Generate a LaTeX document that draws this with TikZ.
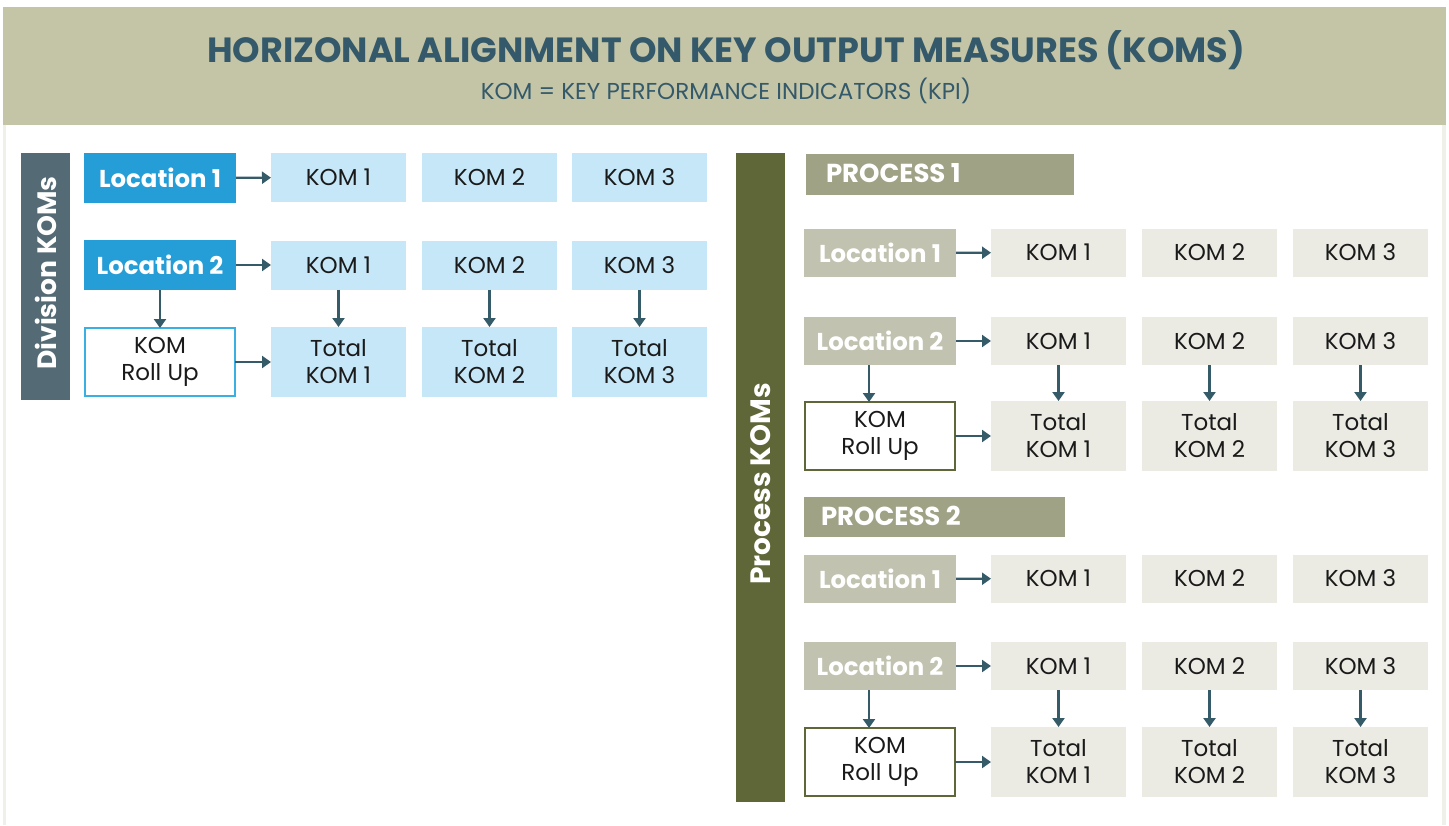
\documentclass[tikz,border=0pt]{standalone}
\usepackage{fontspec}
\setmainfont{Poppins}
\usetikzlibrary{arrows.meta}

\definecolor{bandcol}{HTML}{C4C5A6}
\definecolor{titlecol}{HTML}{34596A}
\definecolor{divcol}{HTML}{546A74}
\definecolor{locblue}{HTML}{259DD7}
\definecolor{komblue}{HTML}{C6E7F7}
\definecolor{rollblue}{HTML}{3AB0E2}
\definecolor{olivebar}{HTML}{5F6638}
\definecolor{headcol}{HTML}{A0A286}
\definecolor{locolive}{HTML}{C1C2AF}
\definecolor{komolive}{HTML}{EBEBE3}
\definecolor{arrowcol}{HTML}{355A68}
\definecolor{framecol}{HTML}{F0F0EA}
\definecolor{inkcol}{HTML}{1A1A1A}

\begin{document}
\begin{tikzpicture}[x=0.5pt,y=-0.5pt,
  box/.style={rectangle, inner sep=0pt, outer sep=0pt, align=center,
    font=\fontsize{11.5}{13.5}\selectfont, text=inkcol},
  lblue/.style={box, fill=locblue, text=white, minimum width=76pt, minimum height=25pt,
    font=\fontsize{12.2}{14}\selectfont\bfseries},
  kblue/.style={box, fill=komblue, minimum width=67.5pt, minimum height=24.5pt},
  tblue/.style={box, fill=komblue, minimum width=67.5pt, minimum height=35pt},
  rblue/.style={box, fill=white, draw=rollblue, line width=1.25pt, minimum width=75pt, minimum height=34pt},
  lolive/.style={box, fill=locolive, text=white, minimum width=76pt, minimum height=24pt,
    font=\fontsize{12.2}{14}\selectfont\bfseries},
  kolive/.style={box, fill=komolive, minimum width=67.5pt, minimum height=24pt},
  tolive/.style={box, fill=komolive, minimum width=67.5pt, minimum height=35pt},
  rolive/.style={box, fill=white, draw=olivebar, line width=1.25pt, minimum width=75pt, minimum height=34pt},
  headtext/.style={box, text=white, anchor=west, font=\fontsize{13}{15}\selectfont\bfseries},
  sidebar/.style={box, rotate=90, text=white},
  arr/.style={draw=arrowcol, line width=1.2pt, -{Triangle[length=4.5pt,width=6pt]}}
]
\useasboundingbox (0,0) rectangle (1449,825);
\fill[white] (0,0) rectangle (1449,825);

% page frame and title band
\fill[framecol] (3,125) rectangle (6,825);
\fill[framecol] (1442,125) rectangle (1446,825);
\fill[bandcol] (3,7) rectangle (1446,125);
\node[box, text=titlecol, font=\fontsize{17.5}{20}\selectfont\bfseries] (title) at (726,50)
  {HORIZONAL ALIGNMENT ON KEY OUTPUT MEASURES (KOMS)};
\node[box, text=titlecol, font=\fontsize{11.5}{13}\selectfont] (subtitle) at (726,91)
  {KOM = KEY PERFORMANCE INDICATORS (KPI)};

% ---------------- Division KOMs ----------------
\fill[divcol] (21,153) rectangle (70,400);
\node[sidebar, font=\fontsize{13.3}{15}\selectfont\bfseries] (divlabel) at (45.5,273) {Division KOMs};

\node[lblue] (dl1) at (160,178) {Location 1};
\node[kblue] (d11) at (338.5,177.5) {KOM 1};
\node[kblue] (d12) at (489.5,177.5) {KOM 2};
\node[kblue] (d13) at (639.5,177.5) {KOM 3};

\node[lblue] (dl2) at (160,265) {Location 2};
\node[kblue] (d21) at (338.5,265) {KOM 1};
\node[kblue] (d22) at (489.5,265) {KOM 2};
\node[kblue] (d23) at (639.5,265) {KOM 3};

\node[rblue] (dr) at (160,362) {KOM\\Roll Up};
\node[tblue] (dt1) at (338.5,362) {Total\\KOM 1};
\node[tblue] (dt2) at (489.5,362) {Total\\KOM 2};
\node[tblue] (dt3) at (639.5,362) {Total\\KOM 3};

\draw[arr] (dl1) -- (d11);
\draw[arr] (dl2) -- (d21);
\draw[arr] (dr) -- (dt1);
\draw[arr] (dl2) -- (dr);
\draw[arr] (d21) -- (dt1);
\draw[arr] (d22) -- (dt2);
\draw[arr] (d23) -- (dt3);

% ---------------- Process KOMs ----------------
\fill[olivebar] (736,153) rectangle (785,802);
\node[sidebar, font=\fontsize{14}{16}\selectfont\bfseries] (proclabel) at (760.5,484) {Process KOMs};

% Process 1
\fill[headcol] (806,154) rectangle (1074,195);
\node[headtext] (p1) at (826,173) {PROCESS 1};

\node[lolive] (a1) at (880,253) {Location 1};
\node[kolive] (a11) at (1058.5,252.5) {KOM 1};
\node[kolive] (a12) at (1209.5,252.5) {KOM 2};
\node[kolive] (a13) at (1360.5,252.5) {KOM 3};

\node[lolive] (a2) at (880,341) {Location 2};
\node[kolive] (a21) at (1058.5,341) {KOM 1};
\node[kolive] (a22) at (1209.5,341) {KOM 2};
\node[kolive] (a23) at (1360.5,341) {KOM 3};

\node[rolive] (ar) at (880,436) {KOM\\Roll Up};
\node[tolive] (at1) at (1058.5,436) {Total\\KOM 1};
\node[tolive] (at2) at (1209.5,436) {Total\\KOM 2};
\node[tolive] (at3) at (1360.5,436) {Total\\KOM 3};

\draw[arr] (a1) -- (a11);
\draw[arr] (a2) -- (a21);
\draw[arr] (ar) -- (at1);
\draw[arr] ([xshift=-5.5pt]a2.south) -- ([xshift=-5.5pt]ar.north);
\draw[arr] (a21) -- (at1);
\draw[arr] (a22) -- (at2);
\draw[arr] (a23) -- (at3);

% Process 2
\fill[headcol] (804,497) rectangle (1065,537);
\node[headtext] (p2) at (821,516) {PROCESS 2};

\node[lolive] (b1) at (880,579) {Location 1};
\node[kolive] (b11) at (1058.5,578.5) {KOM 1};
\node[kolive] (b12) at (1209.5,578.5) {KOM 2};
\node[kolive] (b13) at (1360.5,578.5) {KOM 3};

\node[lolive] (b2) at (880,666) {Location 2};
\node[kolive] (b21) at (1058.5,666) {KOM 1};
\node[kolive] (b22) at (1209.5,666) {KOM 2};
\node[kolive] (b23) at (1360.5,666) {KOM 3};

\node[rolive] (br) at (880,762) {KOM\\Roll Up};
\node[tolive] (bt1) at (1058.5,762) {Total\\KOM 1};
\node[tolive] (bt2) at (1209.5,762) {Total\\KOM 2};
\node[tolive] (bt3) at (1360.5,762) {Total\\KOM 3};

\draw[arr] (b1) -- (b11);
\draw[arr] (b2) -- (b21);
\draw[arr] (br) -- (bt1);
\draw[arr] ([xshift=-5.5pt]b2.south) -- ([xshift=-5.5pt]br.north);
\draw[arr] (b21) -- (bt1);
\draw[arr] (b22) -- (bt2);
\draw[arr] (b23) -- (bt3);
\end{tikzpicture}
\end{document}
